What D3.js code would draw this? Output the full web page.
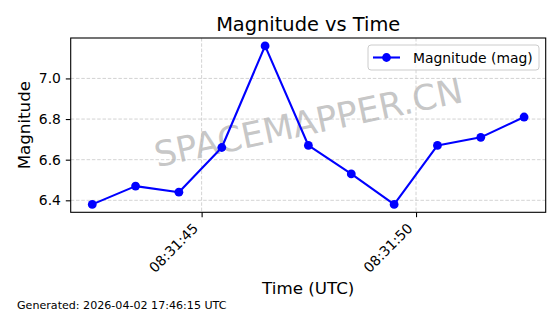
<!DOCTYPE html>
<html>
<head>
<meta charset="utf-8">
<script src="https://cdn.jsdelivr.net/npm/d3@7"></script>
<style>
  body { margin: 0; background: #fff; }
  svg { display: block; font-family: "DejaVu Sans", sans-serif; }
</style>
</head>
<body>
<div id="chart"></div>
<script>
// observation times (UTC) and magnitudes
var times = ["08:31:42.450", "08:31:43.460", "08:31:44.470", "08:31:45.470", "08:31:46.480",
             "08:31:47.490", "08:31:48.490", "08:31:49.490", "08:31:50.500", "08:31:51.510", "08:31:52.520"];
var mags = [6.38, 6.47, 6.44, 6.66, 7.16, 6.67, 6.53, 6.38, 6.67, 6.71, 6.81];
var yTicks = [6.4, 6.6, 6.8, 7.0];
var xTicks = ["08:31:45.000", "08:31:50.000"];

var W = 560, H = 314;
// plot box (window.top is read-only, so no plain "top")
var pL = 70.7, pR = 545.7, pT = 38, pB = 212.3;

var parse = d3.utcParse("%H:%M:%S.%L");
var data = times.map(function(t, i) { return { t: parse(t), v: mags[i] }; });

var tExt = d3.extent(data, function(d) { return d.t; });
var tPad = (tExt[1] - tExt[0]) * 0.05;
var x = d3.scaleUtc()
	.domain([new Date(+tExt[0] - tPad), new Date(+tExt[1] + tPad)])
	.range([pL, pR]);

var vExt = d3.extent(mags);
var vPad = (vExt[1] - vExt[0]) * 0.05;
var y = d3.scaleLinear()
	.domain([vExt[0] - vPad, vExt[1] + vPad])
	.range([pB, pT]);

var svg = d3.select("#chart").append("svg")
	.attr("width", W)
	.attr("height", H);

svg.append("rect").attr("width", W).attr("height", H).attr("fill", "#fff");

var xTickDates = xTicks.map(parse);

// grid
var grid = svg.append("g").attr("stroke", "#b0b0b0").attr("stroke-opacity", 0.7)
	.attr("stroke-width", 0.8).attr("stroke-dasharray", "3.5,1.8");
grid.selectAll(".gy").data(yTicks).enter().append("line")
	.attr("x1", pL).attr("x2", pR)
	.attr("y1", function(d) { return y(d); }).attr("y2", function(d) { return y(d); });
grid.selectAll(".gx").data(xTickDates).enter().append("line")
	.attr("y1", pT).attr("y2", pB)
	.attr("x1", function(d) { return x(d); }).attr("x2", function(d) { return x(d); });

// watermark
svg.append("text")
	.attr("transform", "translate(" + ((pL + pR) / 2) + "," + ((pT + pB) / 2 - 3) + ") rotate(-12)")
	.attr("text-anchor", "middle")
	.attr("dy", "0.36em")
	.attr("font-size", "35px")
	.attr("fill", "#b8b8b8")
	.attr("fill-opacity", 0.8)
	.text("SPACEMAPPER.CN");

// axes
var xAxis = d3.axisBottom(x).tickValues(xTickDates).tickSize(4.9).tickPadding(4.9)
	.tickFormat(d3.utcFormat("%H:%M:%S"));
var gx = svg.append("g").attr("transform", "translate(0," + pB + ")").call(xAxis);
gx.select(".domain").remove();
gx.selectAll(".tick line").attr("stroke", "#000").attr("stroke-width", 1.1);
gx.selectAll(".tick text")
	.attr("font-family", "DejaVu Sans")
	.attr("font-size", "13.9px")
	.attr("fill", "#000")
	.attr("text-anchor", "end")
	.attr("dy", null)
	.attr("y", null)
	.attr("transform", "translate(-3,17) rotate(-45)");

var yAxis = d3.axisLeft(y).tickValues(yTicks).tickSize(4.9).tickPadding(4.9)
	.tickFormat(d3.format(".1f"));
var gy = svg.append("g").attr("transform", "translate(" + pL + ",0)").call(yAxis);
gy.select(".domain").remove();
gy.selectAll(".tick line").attr("stroke", "#000").attr("stroke-width", 1.1);
gy.selectAll(".tick text")
	.attr("font-family", "DejaVu Sans")
	.attr("font-size", "13.9px")
	.attr("fill", "#000");

// series
var line = d3.line()
	.x(function(d) { return x(d.t); })
	.y(function(d) { return y(d.v); });
svg.append("path").datum(data)
	.attr("d", line)
	.attr("fill", "none")
	.attr("stroke", "#0000ff")
	.attr("stroke-width", 2.1)
	.attr("stroke-linejoin", "round");
svg.selectAll(".dot").data(data).enter().append("circle")
	.attr("cx", function(d) { return x(d.t); })
	.attr("cy", function(d) { return y(d.v); })
	.attr("r", 4.4)
	.attr("fill", "#0000ff");

// frame
svg.append("rect")
	.attr("x", pL).attr("y", pT)
	.attr("width", pR - pL).attr("height", pB - pT)
	.attr("fill", "none").attr("stroke", "#000").attr("stroke-width", 1.1);

// legend
var lg = svg.append("g").attr("transform", "translate(368,45)");
lg.append("rect")
	.attr("width", 171).attr("height", 25).attr("rx", 3)
	.attr("fill", "#fff").attr("fill-opacity", 0.8)
	.attr("stroke", "#cccccc").attr("stroke-width", 1);
lg.append("line").attr("x1", 5).attr("x2", 32).attr("y1", 12.5).attr("y2", 12.5)
	.attr("stroke", "#0000ff").attr("stroke-width", 2.1);
lg.append("circle").attr("cx", 18.5).attr("cy", 12.5).attr("r", 4.4).attr("fill", "#0000ff");
lg.append("text").attr("x", 45).attr("y", 17.5)
	.attr("font-size", "13.9px").attr("fill", "#000")
	.text("Magnitude (mag)");

// titles
svg.append("text")
	.attr("x", (pL + pR) / 2).attr("y", 31)
	.attr("text-anchor", "middle").attr("font-size", "19.4px").attr("fill", "#000")
	.text("Magnitude vs Time");
svg.append("text")
	.attr("x", (pL + pR) / 2).attr("y", 294)
	.attr("text-anchor", "middle").attr("font-size", "16.7px").attr("fill", "#000")
	.text("Time (UTC)");
svg.append("text")
	.attr("transform", "translate(30," + ((pT + pB) / 2) + ") rotate(-90)")
	.attr("text-anchor", "middle").attr("font-size", "16.7px").attr("fill", "#000")
	.text("Magnitude");

svg.append("text")
	.attr("x", 17).attr("y", 309)
	.attr("font-size", "11.1px").attr("fill", "#000")
	.text("Generated: 2026-04-02 17:46:15 UTC");
</script>
</body>
</html>
